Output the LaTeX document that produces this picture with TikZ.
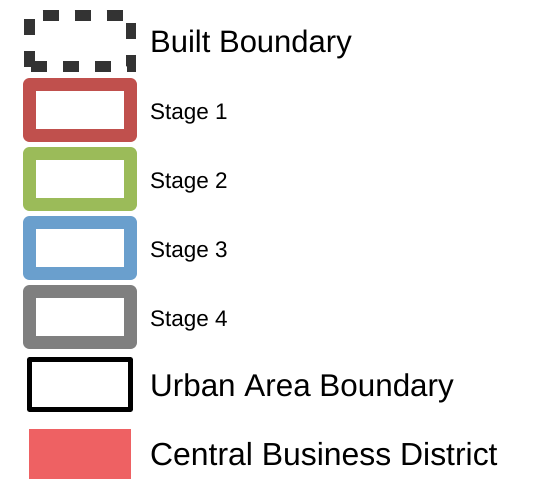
\documentclass[tikz,border=0pt]{standalone}
\usepackage{fontspec}
\setmainfont{Liberation Sans}
\definecolor{stageA}{HTML}{C0504D}
\definecolor{stageB}{HTML}{9BBB59}
\definecolor{stageC}{HTML}{6A9FCD}
\definecolor{stageD}{HTML}{7F7F7F}
\definecolor{cbdcol}{HTML}{EE6163}
\definecolor{dashcol}{HTML}{333333}
\begin{document}
\begin{tikzpicture}[x=1pt,y=-1pt,
  stagebox/.style={line width=13pt,line join=round},
  labbig/.style={anchor=base west,inner sep=0pt,font=\fontsize{31}{36}\selectfont},
  labsmall/.style={anchor=base west,inner sep=0pt,font=\fontsize{22.5}{27}\selectfont}]
\useasboundingbox[fill=white] (0,0) rectangle (543,479);
% built boundary
\draw[dashcol,line width=10.7pt,dash pattern=on 16pt off 16pt] (29.7,66.5) rectangle (131,15.3);
% stages
\draw[stagebox,stageA] (29.5,135.5) rectangle (130.5,84.5);
\draw[stagebox,stageB] (29.5,204.5) rectangle (130.5,153.5);
\draw[stagebox,stageC] (29.5,273.5) rectangle (130.5,222.5);
\draw[stagebox,stageD] (29.5,342.5) rectangle (130.5,291.5);
% urban area
\draw[black,line width=5pt,line join=round] (29.5,409.5) rectangle (130.5,359.5);
% CBD
\fill[cbdcol] (29,479) rectangle (131,429);
% labels
\node[labbig] (lbuilt) at (150,52) {Built Boundary};
\node[labsmall] (ls1) at (150,119) {Stage 1};
\node[labsmall] (ls2) at (150,188) {Stage 2};
\node[labsmall] (ls3) at (150,257) {Stage 3};
\node[labsmall] (ls4) at (150,326) {Stage 4};
\node[labbig,font=\fontsize{31.4}{36}\selectfont] (lurban) at (150,396) {Urban Area Boundary};
\node[labbig,font=\fontsize{31.9}{36}\selectfont] (lcbd) at (150,465) {Central Business District};
\end{tikzpicture}
\end{document}
